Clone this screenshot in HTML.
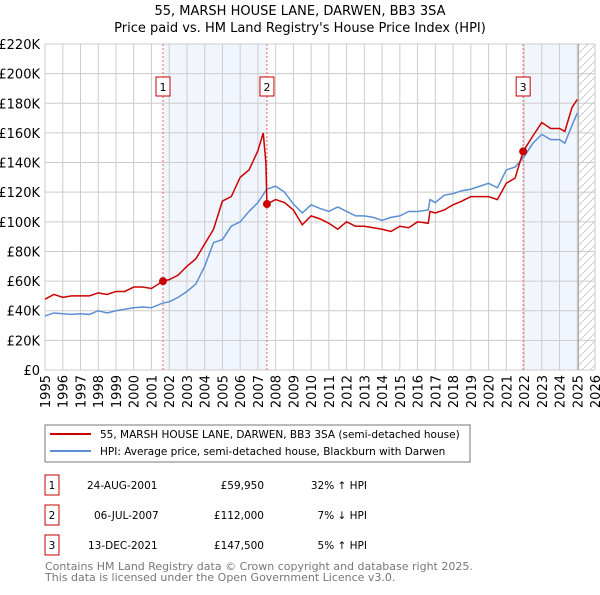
<!DOCTYPE html>
<html><head><meta charset="utf-8"><style>
body{margin:0;background:#fff;font-family:"Liberation Sans","DejaVu Sans",sans-serif;}
svg text{font-family:"DejaVu Sans","Liberation Sans",sans-serif;}
</style></head><body>
<svg id="chart" width="600" height="590">
<defs><pattern id="hatch" patternUnits="userSpaceOnUse" width="8" height="8"><path d="M0,8 L8,0" stroke="#ccc" stroke-width="1"/></pattern></defs>
<text x="300" y="15" text-anchor="middle" font-size="13">55, MARSH HOUSE LANE, DARWEN, BB3 3SA</text>
<text x="300" y="32" text-anchor="middle" font-size="13">Price paid vs. HM Land Registry's House Price Index (HPI)</text>
<g id="plot"></g>
<rect x="45" y="425" width="425" height="37" fill="#fff" stroke="#777"/>
<line x1="50" y1="434" x2="91" y2="434" stroke="#cc0000" stroke-width="2"/>
<text x="100" y="438" font-size="10.5">55, MARSH HOUSE LANE, DARWEN, BB3 3SA (semi-detached house)</text>
<line x1="50" y1="451" x2="91" y2="451" stroke="#5b8fd4" stroke-width="2"/>
<text x="100" y="455" font-size="10.5">HPI: Average price, semi-detached house, Blackburn with Darwen</text>
<g font-size="10.5">
<rect x="45" y="475" width="14" height="20" fill="#fff" stroke="#c00"/><text x="52" y="489" text-anchor="middle">1</text>
<text x="87" y="489">24-AUG-2001</text><text x="264" y="489" text-anchor="end">£59,950</text><text x="367" y="489" text-anchor="end">32% ↑ HPI</text>
<rect x="45" y="505" width="14" height="20" fill="#fff" stroke="#c00"/><text x="52" y="519" text-anchor="middle">2</text>
<text x="94" y="519">06-JUL-2007</text><text x="264" y="519" text-anchor="end">£112,000</text><text x="367" y="519" text-anchor="end">7% ↓ HPI</text>
<rect x="45" y="535" width="14" height="20" fill="#fff" stroke="#c00"/><text x="52" y="549" text-anchor="middle">3</text>
<text x="88" y="549">13-DEC-2021</text><text x="264" y="549" text-anchor="end">£147,500</text><text x="367" y="549" text-anchor="end">5% ↑ HPI</text>
</g>
<text x="45" y="570" font-size="11" fill="#777">Contains HM Land Registry data © Crown copyright and database right 2025.</text>
<text x="45" y="581" font-size="11" fill="#777">This data is licensed under the Open Government Licence v3.0.</text>
</svg>
<script>
const yTicks=[0,20,40,60,80,100,120,140,160,180,200,220];
const years=[1995,1996,1997,1998,1999,2000,2001,2002,2003,2004,2005,2006,2007,2008,2009,2010,2011,2012,2013,2014,2015,2016,2017,2018,2019,2020,2021,2022,2023,2024,2025,2026];
const hpiT=[1995,1995.5,1996,1996.5,1997,1997.5,1998,1998.5,1999,1999.5,2000,2000.5,2001,2001.6,2002,2002.5,2003,2003.5,2004,2004.5,2005,2005.5,2006,2006.5,2007,2007.5,2008,2008.5,2009,2009.5,2010,2010.5,2011,2011.5,2012,2012.5,2013,2013.5,2014,2014.5,2015,2015.5,2016,2016.6,2016.7,2017,2017.5,2018,2018.5,2019,2019.5,2020,2020.5,2021,2021.5,2022,2022.5,2023,2023.5,2024,2024.3,2024.6,2025];
const hpiV=[36.5,38.5,38,37.5,38,37.5,40,38.5,40,41,42,42.5,42,45,46,49,53,58,70,86,88,97,100,107,113,122,124,120,112,106,111.5,109,107,110,107,104,104,103,101,103,104,107,107,108,115,113,118,119,121,122,124,126,123,135,137,144,153,159,155.5,155.5,153,162,173.5];
const redT=[1995,1995.5,1996,1996.5,1997,1997.5,1998,1998.5,1999,1999.5,2000,2000.5,2001,2001.65,2002,2002.5,2003,2003.5,2004,2004.5,2005,2005.5,2006,2006.5,2007,2007.3,2007.45,2007.51,2008,2008.5,2009,2009.5,2010,2010.5,2011,2011.5,2012,2012.5,2013,2013.5,2014,2014.5,2015,2015.5,2016,2016.6,2016.7,2017,2017.5,2018,2018.5,2019,2019.5,2020,2020.5,2021,2021.5,2021.95,2022.5,2023,2023.5,2024,2024.3,2024.7,2025];
const redV=[47.8,51,49,50,50,50,52,51,53,53,56,56,55,59.95,61,64,70,75,85,95,114,117,130,135,148,160,140,112,115,113,108,98,104,102,99,95,100,97,97,96,95,93.5,97,96,100,99,107,106,108,111.5,114,117,117,117,115,126,129.6,147.5,158,167,163,163,161,177,182.6];
const sales=[{n:"1",t:2001.65,v:59.95},{n:"2",t:2007.51,v:112},{n:"3",t:2021.95,v:147.5}];
const X=t=>45+(t-1995)*(550/31), Y=v=>370-v*(326/220);
const g=document.getElementById('plot'),NS="http://www.w3.org/2000/svg";
function mk(tag,a,p){const e=document.createElementNS(NS,tag);for(const k in a)e.setAttribute(k,a[k]);(p||g).appendChild(e);return e;}
let e;
e=mk('rect',{x:X(sales[0].t),y:44,width:X(sales[1].t)-X(sales[0].t),height:326,fill:'#eef3fc',opacity:0.8});


e=mk('rect',{x:X(sales[2].t),y:44,width:X(2025.06)-X(sales[2].t),height:326,fill:'#eef3fc',opacity:0.8});


e=mk('rect',{x:X(2025.06),y:44,width:X(2026)-X(2025.06),height:326,fill:'url(#hatch)'});


yTicks.forEach(v=>{
 e=mk('line',{x1:45,x2:595,y1:Y(v),y2:Y(v),stroke:'#ccc'});
 
 
 e=mk('text',{x:40,y:Y(v)+5,'text-anchor':'end','font-size':13});
 
 
 e.textContent=v===0?'£0':'£'+v+'K';
});
years.forEach(yr=>{
 e=mk('line',{x1:X(yr),x2:X(yr),y1:44,y2:370,stroke:'#ccc'});
 
 
 e=mk('text',{x:0,y:0,'text-anchor':'end','font-size':13,transform:`translate(${X(yr)+5},375) rotate(-90)`});
 
 
 e.textContent=yr;
});
e=mk('line',{x1:X(2025.06),x2:X(2025.06),y1:44,y2:370,stroke:'#999'});


sales.forEach(s=>{
 e=mk('line',{x1:X(s.t),x2:X(s.t),y1:44,y2:370,stroke:'#f06060','stroke-dasharray':'2,2'});
 
 
 e=mk('rect',{x:X(s.t)-7,y:77,width:14,height:19,fill:'#fff',stroke:'#c00'});
 
 
 e=mk('text',{x:X(s.t),y:91,'text-anchor':'middle','font-size':11});
 
 
 e.textContent=s.n;
});
e=mk('polyline',{points:hpiT.map((t,i)=>X(t)+','+Y(hpiV[i])).join(' '),fill:'none',stroke:'#5b8fd4','stroke-width':1.5});


e=mk('polyline',{points:redT.map((t,i)=>X(t)+','+Y(redV[i])).join(' '),fill:'none',stroke:'#cc0000','stroke-width':1.5});


sales.forEach(s=>{
 e=mk('circle',{cx:X(s.t),cy:Y(s.v),r:4,fill:'#cc0000'});
 
 
});
</script>
</body></html>
